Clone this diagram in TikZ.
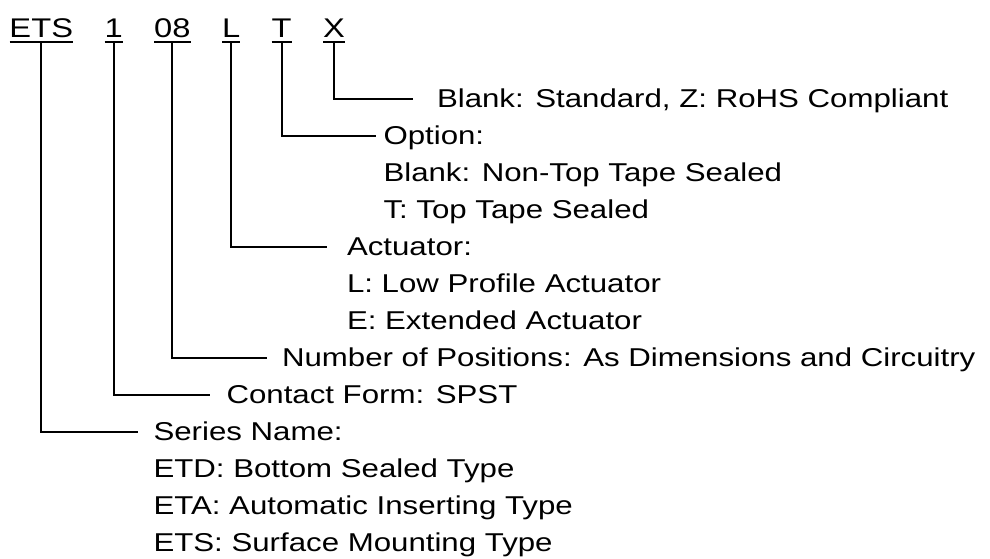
\documentclass[tikz,border=0pt]{standalone}
\usepackage{fontspec}
\setmainfont{Liberation Sans}
\usetikzlibrary{positioning}

\begin{document}
\begin{tikzpicture}[
        x=0.5pt, y=-0.5pt,
        line width=1pt,
        code/.style={inner sep=0pt, outer sep=0pt, xscale=1.21, font=\fontsize{13.5pt}{16pt}\selectfont},
        lbl/.style={inner sep=0pt, outer sep=0pt, xscale=1.21, anchor=base west, font=\fontsize{12.9pt}{18.5pt}\selectfont},
        leader/.style={draw, line width=1pt},
    ]
    \useasboundingbox (0,0) rectangle (990,558);

    % Part number fields
    \node[code, anchor=base west] (ets) at (9.5,37) {ETS};
    \node[code, base right=15.75pt of ets] (cf) {1};
    \node[code, base right=15.75pt of cf] (np) {08};
    \node[code, base right=15.75pt of np] (act) {L};
    \node[code, base right=15.75pt of act] (opt) {T};
    \node[code, base right=15.75pt of opt] (rohs) {X};

    % Underlines
    \foreach \n in {ets,cf,np,act,opt,rohs}
        \draw ([yshift=-2.5pt]\n.south west) -- ([yshift=-2.5pt]\n.south east);

    % Descriptions
    \node[lbl] (rohsl) at (437,107) {Blank: Standard, Z: RoHS Compliant};
    \node[lbl] (optl) at (383.5,144) {Option:};
    \node[lbl] (optl2) at ([yshift=-18.5pt]optl.base west) {Blank: Non-Top Tape Sealed};
    \node[lbl] (optl3) at ([yshift=-18.5pt]optl2.base west) {T: Top Tape Sealed};
    \node[lbl] (actl) at (347,255) {Actuator:};
    \node[lbl] (actl2) at ([yshift=-18.5pt]actl.base west) {L: Low Profile Actuator};
    \node[lbl] (actl3) at ([yshift=-18.5pt]actl2.base west) {E: Extended Actuator};
    \node[lbl] (npl) at (282,366) {Number of Positions: As Dimensions and Circuitry};
    \node[lbl] (cfl) at (226.5,403) {Contact Form: SPST};
    \node[lbl] (etsl) at (153.5,440) {Series Name:};
    \node[lbl] (etsl2) at ([yshift=-18.5pt]etsl.base west) {ETD: Bottom Sealed Type};
    \node[lbl] (etsl3) at ([yshift=-18.5pt]etsl2.base west) {ETA: Automatic Inserting Type};
    \node[lbl] (etsl4) at ([yshift=-18.5pt]etsl3.base west) {ETS: Surface Mounting Type};

    % Leaders
    \draw[leader] ([yshift=-2.5pt]rohs.south) |- ([xshift=-12pt,yshift=4pt]rohsl.base west);
    \draw[leader] ([yshift=-2.5pt]opt.south) |- ([xshift=-3.75pt,yshift=4pt]optl.base west);
    \draw[leader] ([yshift=-2.5pt]act.south) |- ([xshift=-10pt,yshift=4pt]actl.base west);
    \draw[leader] ([yshift=-2.5pt]np.south) |- ([xshift=-7.5pt,yshift=4pt]npl.base west);
    \draw[leader] ([yshift=-2.5pt]cf.south) |- ([xshift=-8.25pt,yshift=4pt]cfl.base west);
    \draw[leader] ([yshift=-2.5pt]ets.south) |- ([xshift=-7.75pt,yshift=4pt]etsl.base west);

\end{tikzpicture}
\end{document}
